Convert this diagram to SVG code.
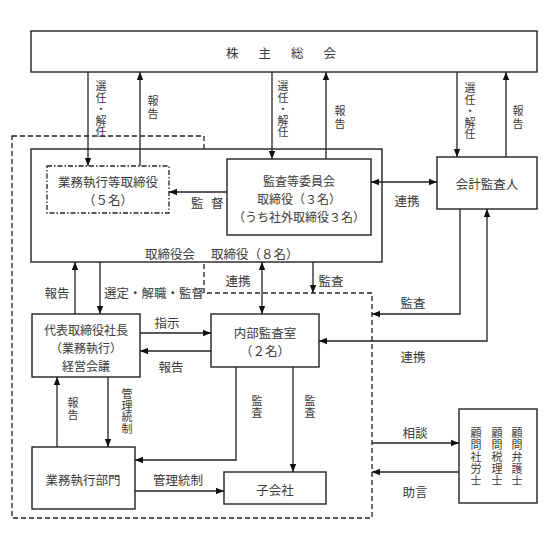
<svg xmlns="http://www.w3.org/2000/svg" width="548" height="548" viewBox="0 0 548 548">
<style>
text{font-family:"Noto Sans CJK JP","Noto Sans",sans-serif;font-size:12.5px;fill:#3a3a3a;dominant-baseline:central}
tspan{dominant-baseline:central}
.c{text-anchor:middle}
.s{font-size:12px}
.v{font-family:"Liberation Sans","Noto Sans CJK JP",sans-serif;font-size:11px;text-anchor:middle}
.box{fill:#fff;stroke:#222;stroke-width:1.4}
.ln{fill:none;stroke:#222;stroke-width:1.3}
.dash{fill:none;stroke:#222;stroke-width:1.3;stroke-dasharray:5 3}
.dd{fill:none;stroke:#222;stroke-width:1.3;stroke-dasharray:5 2 1.5 2}
</style>
<defs>
<marker id="ah" viewBox="0 0 8 8" refX="8" refY="4" markerWidth="8" markerHeight="8" markerUnits="userSpaceOnUse" orient="auto-start-reverse">
<path d="M0,0.8 L8,4 L0,7.2 Z" fill="#111"/>
</marker>
</defs>
<rect width="548" height="548" fill="#fff"/>

<g id="outer-dashed">
<path class="dash" d="M12,136 H204 V293 H372 V518 H12 Z"/>
</g>

<g id="kabunushi">
<rect class="box" x="31" y="31" width="506" height="41"/>
<text x="226" y="52" style="letter-spacing:20px">株主総会</text>
</g>

<g id="torishimariyakukai">
<rect class="box" x="31" y="149" width="351" height="113" fill="none"/>
<text x="195" y="253" text-anchor="end">取締役会</text>
<text x="211" y="253">取締役（８名）</text>
</g>

<g id="gyomu-torishimari">
<rect class="dd" x="47" y="166" width="122" height="47"/>
<text class="c" x="108" y="181">業務執行等取締役</text>
<text class="c" x="108" y="199">（５名）</text>
</g>

<g id="kansa-iinkai">
<rect class="box" x="227" y="159" width="144" height="76"/>
<text class="c s" x="299" y="180">監査等委員会</text>
<text class="c s" x="299" y="198">取締役（３名）</text>
<text class="c s" x="299" y="216">（うち社外取締役３名）</text>
</g>

<g id="kaikei-kansanin">
<rect class="box" x="437" y="157" width="100" height="52"/>
<text class="c" x="487" y="183">会計監査人</text>
</g>

<g id="daihyo">
<rect class="box" x="32" y="314" width="108" height="63"/>
<text class="c s" x="86" y="329">代表取締役社長</text>
<text class="c s" x="86" y="347">（業務執行）</text>
<text class="c s" x="86" y="365">経営会議</text>
</g>

<g id="naibu-kansa">
<rect class="box" x="211" y="314" width="108" height="53"/>
<text class="c" x="265" y="332">内部監査室</text>
<text class="c" x="265" y="350">（２名）</text>
</g>

<g id="gyomu-bumon">
<rect class="box" x="32" y="447" width="103" height="62"/>
<text class="c" x="83" y="479">業務執行部門</text>
</g>

<g id="kogaisha">
<rect class="box" x="224" y="472" width="102" height="32"/>
<text class="c" x="275" y="489">子会社</text>
</g>

<g id="komon">
<rect class="box" x="459" y="409" width="78" height="94"/>
<text class="v"><tspan x="517" y="433">顧</tspan><tspan x="517" y="445">問</tspan><tspan x="517" y="457">弁</tspan><tspan x="517" y="469">護</tspan><tspan x="517" y="481">士</tspan></text>
<text class="v"><tspan x="497" y="433">顧</tspan><tspan x="497" y="445">問</tspan><tspan x="497" y="457">税</tspan><tspan x="497" y="469">理</tspan><tspan x="497" y="481">士</tspan></text>
<text class="v"><tspan x="476" y="433">顧</tspan><tspan x="476" y="445">問</tspan><tspan x="476" y="457">社</tspan><tspan x="476" y="469">労</tspan><tspan x="476" y="481">士</tspan></text>
</g>

<g id="connectors">
<path class="ln" marker-end="url(#ah)" d="M88,72 V166"/>
<path class="ln" marker-end="url(#ah)" d="M140,166 V72"/>
<path class="ln" marker-end="url(#ah)" d="M272,72 V159"/>
<path class="ln" marker-end="url(#ah)" d="M326,159 V72"/>
<path class="ln" marker-end="url(#ah)" d="M457,72 V157"/>
<path class="ln" marker-end="url(#ah)" d="M506,157 V72"/>
<path class="ln" marker-end="url(#ah)" d="M227,192 H169"/>
<path class="ln" marker-start="url(#ah)" marker-end="url(#ah)" d="M371,182 H437"/>
<path class="ln" marker-end="url(#ah)" d="M75,314 V262"/>
<path class="ln" marker-end="url(#ah)" d="M100,262 V314"/>
<path class="ln" marker-start="url(#ah)" marker-end="url(#ah)" d="M262,262 V314"/>
<path class="ln" marker-end="url(#ah)" d="M313,262 V293"/>
<path class="ln" marker-end="url(#ah)" d="M140,333 H211"/>
<path class="ln" marker-end="url(#ah)" d="M211,351 H140"/>
<path class="ln" marker-end="url(#ah)" d="M460,209 V314 H372"/>
<path class="ln" marker-start="url(#ah)" marker-end="url(#ah)" d="M319,341 H487 V209"/>
<path class="ln" marker-end="url(#ah)" d="M57,447 V377"/>
<path class="ln" marker-end="url(#ah)" d="M108,377 V447"/>
<path class="ln" marker-end="url(#ah)" d="M236,367 V460 H135"/>
<path class="ln" marker-end="url(#ah)" d="M293,367 V472"/>
<path class="ln" marker-end="url(#ah)" d="M135,491 H224"/>
<path class="ln" marker-end="url(#ah)" d="M372,443 H459"/>
<path class="ln" marker-end="url(#ah)" d="M459,472 H372"/>
</g>

<g id="labels">
<text class="v"><tspan x="101" y="86">選</tspan><tspan x="101" y="97.5">任</tspan><tspan x="101" y="109">・</tspan><tspan x="101" y="120.5">解</tspan><tspan x="101" y="132">任</tspan></text>
<text class="v"><tspan x="153" y="101">報</tspan><tspan x="153" y="114">告</tspan></text>
<text class="v"><tspan x="283" y="86">選</tspan><tspan x="283" y="97.5">任</tspan><tspan x="283" y="109">・</tspan><tspan x="283" y="120.5">解</tspan><tspan x="283" y="132">任</tspan></text>
<text class="v"><tspan x="340" y="111">報</tspan><tspan x="340" y="124">告</tspan></text>
<text class="v"><tspan x="470" y="88">選</tspan><tspan x="470" y="99.5">任</tspan><tspan x="470" y="111">・</tspan><tspan x="470" y="122.5">解</tspan><tspan x="470" y="134">任</tspan></text>
<text class="v"><tspan x="518" y="111">報</tspan><tspan x="518" y="124">告</tspan></text>
<text x="191" y="202">監</text>
<text x="211" y="202">督</text>
<text class="c" x="407" y="200">連携</text>
<text class="c" x="57" y="292">報告</text>
<text x="104" y="292">選定・解職・監督</text>
<text class="c" x="238" y="280">連携</text>
<text class="c" x="331" y="280">監査</text>
<text class="c" x="167" y="322">指示</text>
<text class="c" x="171" y="366">報告</text>
<text class="c" x="413" y="302">監査</text>
<text class="c" x="413" y="356">連携</text>
<text class="v"><tspan x="73" y="403">報</tspan><tspan x="73" y="415">告</tspan></text>
<text class="v"><tspan x="127" y="394">管</tspan><tspan x="127" y="405.5">理</tspan><tspan x="127" y="417">統</tspan><tspan x="127" y="428.5">制</tspan></text>
<text class="v"><tspan x="257" y="401">監</tspan><tspan x="257" y="413">査</tspan></text>
<text class="v"><tspan x="310" y="401">監</tspan><tspan x="310" y="413">査</tspan></text>
<text class="c" x="178" y="479">管理統制</text>
<text class="c" x="415" y="432">相談</text>
<text class="c" x="415" y="491">助言</text>
</g>
</svg>
